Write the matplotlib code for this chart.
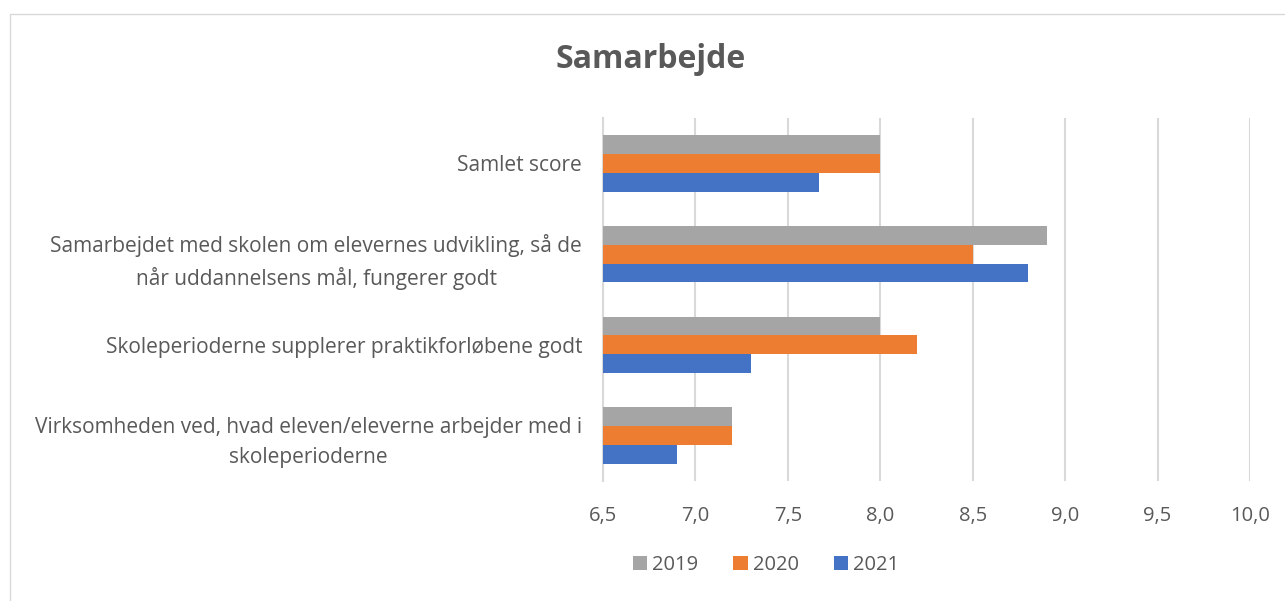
import numpy as np
import matplotlib.pyplot as plt
from matplotlib.patches import Rectangle

# data
categories = [
    "Samlet score",
    "Samarbejdet med skolen om elevernes udvikling, så de\nnår uddannelsens mål, fungerer godt",
    "Skoleperioderne supplerer praktikforløbene godt",
    "Virksomheden ved, hvad eleven/eleverne arbejder med i\nskoleperioderne",
]
years = ["2019", "2020", "2021"]
v2019 = [8.0, 8.9, 8.0, 7.2]
v2020 = [8.0, 8.5, 8.2, 7.2]
v2021 = [7.67, 8.8, 7.3, 6.9]
colors = ["#a5a5a5", "#ed7d31", "#4472c4"]

txt = "#595959"
plt.rcParams['font.family'] = ['Open Sans', 'DejaVu Sans']

fig = plt.figure(figsize=(12.85, 6.01), dpi=100)
ax = fig.add_axes([603/1285, 1 - 481/601, (1250 - 603)/1285, (481 - 118)/601])

y = np.arange(len(categories))
h = 0.207
for k, (vals, c, lab) in enumerate(zip([v2019, v2020, v2021], colors, years)):
    ax.barh(y + (k - 1) * h, np.array(vals) - 6.5, left=6.5, height=h,
            color=c, label=lab, zorder=3)

ax.set_xlim(6.5, 10.0)
ax.set_ylim(len(categories) - 0.5, -0.5)
ticks = np.arange(6.5, 10.01, 0.5)
ax.set_xticks(ticks)
ax.set_xticklabels([f"{t:.1f}".replace(".", ",") for t in ticks], fontsize=14.5, color=txt)
ax.set_yticks(y)
ax.set_yticklabels(categories, fontsize=15, color=txt, ha='right',
                   multialignment='center', linespacing=1.55)
ax.tick_params(axis='y', length=0, pad=15)
ax.tick_params(axis='x', length=0, pad=18)
ax.xaxis.grid(True, color="#d9d9d9", lw=1.5, zorder=0)
for s in ["top", "right", "bottom"]:
    ax.spines[s].set_visible(False)
ax.spines["left"].set_color("#d9d9d9")
ax.spines["left"].set_linewidth(1.5)

fig.text(651/1285, 1 - 59/601, "Samarbejde", ha='center', va='center',
         fontsize=23, fontweight='bold', color=txt)

ax.legend(loc='center', bbox_to_anchor=(766/1285, 1 - 565/601), bbox_transform=fig.transFigure,
          ncol=3, frameon=False, fontsize=14.5, labelcolor=txt, handlelength=0.7,
          handleheight=0.7, columnspacing=1.75, handletextpad=0.25)

fig.patches.append(Rectangle((10/1285, -0.1), 1.1, 1 - 14/601 + 0.1, transform=fig.transFigure,
                             fill=False, edgecolor="#d9d9d9", lw=1))

fig.savefig("out.png", dpi=100)
